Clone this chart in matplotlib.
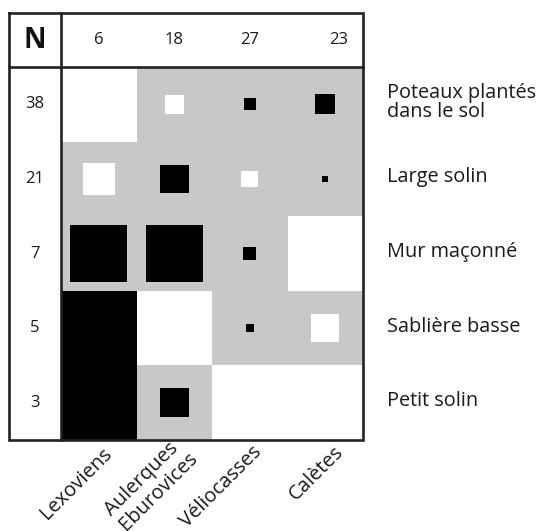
import matplotlib
matplotlib.use("Agg")
import matplotlib.pyplot as plt
from matplotlib.patches import Rectangle

peoples = ["Lexoviens", "Aulerques\nEburovices", "Véliocasses", "Calètes"]
people_n = ["6", "18", "27", "23"]
techniques = ["Poteaux plantés\ndans le sol", "Large solin", "Mur maçonné", "Sablière basse", "Petit solin"]
technique_n = ["38", "21", "7", "5", "3"]

# cell background: 'g' = grey, 'w' = white, 'k' = black
backgrounds = [
    ["w", "g", "g", "g"],
    ["g", "g", "g", "g"],
    ["g", "g", "g", "w"],
    ["k", "w", "g", "g"],
    ["k", "g", "w", "w"],
]
# square side as fraction of cell width; positive = black, negative = white
squares = [
    [0.0, -0.25, 0.16, 0.27],
    [-0.42, 0.38, -0.22, 0.077],
    [0.755, 0.76, 0.17, 0.0],
    [0.0, 0.0, 0.106, -0.37],
    [0.0, 0.38, 0.0, 0.0],
]

W, H = 539, 531
fig = plt.figure(figsize=(W / 100, H / 100), dpi=100)
plt.rcParams['font.family'] = ['Open Sans', 'DejaVu Sans']

x0, x1, y0, y1 = 9, 363, 13, 440
ncol, nrow = 4, 5
ncol_w = 52
head_h = 54
colw = (x1 - x0 - ncol_w) / ncol
rowh = (y1 - y0 - head_h) / nrow

ax = fig.add_axes([x0 / W, 1 - y1 / H, (x1 - x0) / W, (y1 - y0) / H])
ax.set_xlim(-ncol_w / colw, ncol)
ax.set_ylim(nrow, -head_h / rowh)
ax.axis("off")

bgcol = {"g": "#c8c8c8", "w": "white", "k": "black"}
for r in range(nrow):
    for c in range(ncol):
        ax.add_patch(Rectangle((c, r), 1, 1, facecolor=bgcol[backgrounds[r][c]], edgecolor="none"))
        s = squares[r][c]
        if s != 0:
            w = abs(s)
            h = w * colw / rowh
            ax.add_patch(Rectangle((c + 0.5 - w / 2, r + 0.5 - h / 2), w, h,
                                   facecolor="black" if s > 0 else "white", edgecolor="none"))

lc = "#222222"
lw = 1.9
xl, yt = -ncol_w / colw, -head_h / rowh
ax.plot([xl, ncol, ncol, xl, xl], [yt, yt, nrow, nrow, yt], color=lc, lw=lw, clip_on=False, solid_joinstyle="miter")
ax.plot([0, 0], [yt, nrow], color=lc, lw=lw, clip_on=False)
ax.plot([xl, ncol], [0, 0], color=lc, lw=lw, clip_on=False)

tc = "#1a1a1a"
ax.text(xl / 2, yt / 2, "N", ha="center", va="center", fontsize=20, fontweight="bold", color="#111")
head_dx = [0, 0, 0, 13]
for c, t in enumerate(people_n):
    ax.text(c + 0.5 + head_dx[c] / colw, yt / 2, t, ha="center", va="center", fontsize=12, color=tc)
for r, t in enumerate(technique_n):
    ax.text(xl / 2, r + 0.5, t, ha="center", va="center", fontsize=12, color=tc)
for r, t in enumerate(techniques):
    ax.text(ncol + 24 / colw, r + 0.48, t, ha="left", va="center", fontsize=14.3, color=tc,
            linespacing=0.92)
lab_dx = [3, -1, 1.5, 8.5]
lab_dy = [4, -6, 2, 2]
for c, t in enumerate(peoples):
    ax.text(c + 0.5 + lab_dx[c] / colw, nrow + lab_dy[c] / rowh, t, ha="right", va="top",
            rotation=45, rotation_mode="anchor", fontsize=14.5, color=tc,
            linespacing=1.0, multialignment="left")

fig.savefig("out.png", dpi=100)
